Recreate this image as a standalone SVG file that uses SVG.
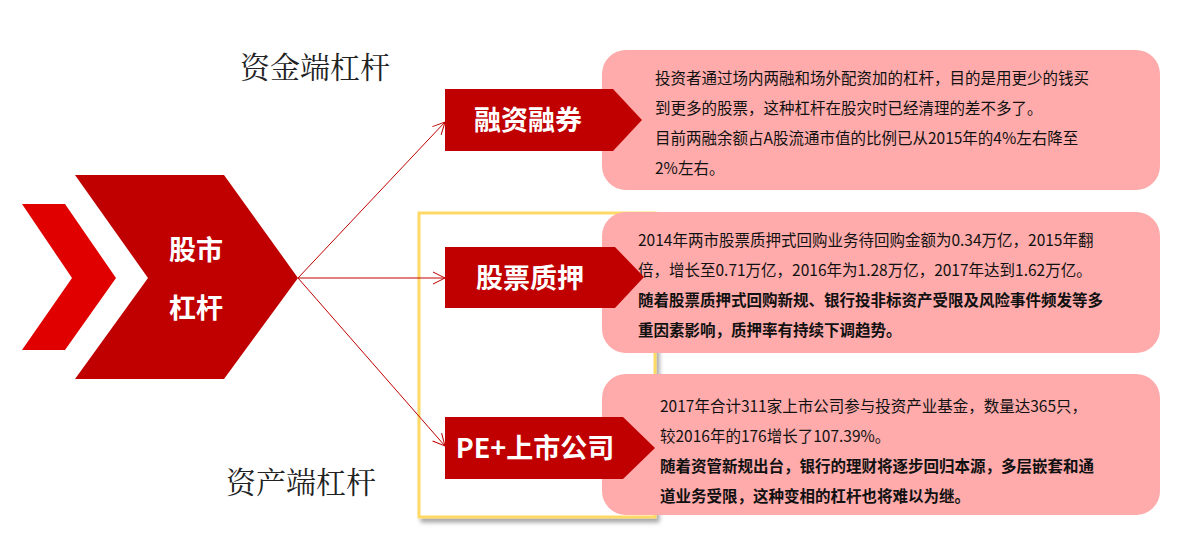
<svg xmlns="http://www.w3.org/2000/svg" width="1200" height="553" viewBox="0 0 1200 553">
<defs>
<style>
.box{fill:#ffabab}
.lab{fill:#c00000}
.lt{font-family:"Noto Sans CJK SC",sans-serif;font-weight:bold;fill:#fff;font-size:27px;text-anchor:middle}
.t{font-family:"Noto Sans CJK SC",sans-serif;font-size:15.5px;fill:#111}
.b{font-weight:bold}
.side{font-family:"Liberation Serif","Noto Serif CJK SC","Noto Sans CJK SC",serif;font-size:30px;fill:#222}
.ln{stroke:#c00000;stroke-width:1;fill:none}
</style>
<marker id="ah" markerWidth="14" markerHeight="14" refX="13" refY="7" orient="auto" markerUnits="userSpaceOnUse"><path d="M1,1 L13,7 L1,13" fill="none" stroke="#c00000" stroke-width="1"/></marker>
<filter id="sh"><feDropShadow dx="3" dy="4" stdDeviation="2" flood-color="#000" flood-opacity="0.35"/></filter>
</defs>
<rect width="1200" height="553" fill="#fff"/>
<text class="side" x="240" y="78">资金端杠杆</text>
<text class="side" x="226" y="493">资产端杠杆</text>
<rect x="419" y="213" width="236" height="304" fill="#fff" stroke="#ffd966" stroke-width="3" filter="url(#sh)"/>
<g id="center">
<polygon points="22,204 65,204 116,278 65,350 22,350 72,278" fill="#e00000"/>
<polygon points="75,175 224,175 298,278 224,379 75,379 148,278" fill="#c00000"/>
<text class="lt" x="196" y="260" font-size="32">股市</text>
<text class="lt" x="196" y="318" font-size="32">杠杆</text>
</g>
<g id="connectors">
<line class="ln" x1="298" y1="278" x2="445" y2="122" marker-end="url(#ah)"/>
<line class="ln" x1="298" y1="278" x2="445" y2="278" marker-end="url(#ah)"/>
<line class="ln" x1="298" y1="278" x2="445" y2="446" marker-end="url(#ah)"/>
</g>
<g id="box1">
<rect class="box" x="602" y="50" width="558" height="140" rx="24"/>
<text class="t" x="655" y="84">投资者通过场内两融和场外配资加的杠杆，目的是用更少的钱买</text>
<text class="t" x="655" y="114">到更多的股票，这种杠杆在股灾时已经清理的差不多了。</text>
<text class="t" x="655" y="144">目前两融余额占A股流通市值的比例已从2015年的4%左右降至</text>
<text class="t" x="655" y="174">2%左右。</text>
</g>
<g id="box2">
<rect class="box" x="602" y="212" width="558" height="141" rx="24"/>
<text class="t" x="638" y="246">2014年两市股票质押式回购业务待回购金额为0.34万亿，2015年翻</text>
<text class="t" x="638" y="276">倍，增长至0.71万亿，2016年为1.28万亿，2017年达到1.62万亿。</text>
<text class="t b" x="638" y="306">随着股票质押式回购新规、银行投非标资产受限及风险事件频发等多</text>
<text class="t b" x="638" y="336">重因素影响，质押率有持续下调趋势。</text>
</g>
<g id="box3">
<rect class="box" x="602" y="374" width="558" height="141" rx="24"/>
<text class="t" x="660" y="412">2017年合计311家上市公司参与投资产业基金，数量达365只，</text>
<text class="t" x="660" y="442">较2016年的176增长了107.39%。</text>
<text class="t b" x="660" y="472">随着资管新规出台，银行的理财将逐步回归本源，多层嵌套和通</text>
<text class="t b" x="660" y="502">道业务受限，这种变相的杠杆也将难以为继。</text>
</g>
<g id="lab1">
<polygon class="lab" points="445,89 613,89 642,120 613,151 445,151"/>
<text class="lt" x="528" y="130" font-size="25">融资融券</text>
</g>
<g id="lab2">
<polygon class="lab" points="445,247 615,247 644,277 615,308 445,308"/>
<text class="lt" x="530" y="288" font-size="29">股票质押</text>
</g>
<g id="lab3">
<polygon class="lab" points="445,417 623,417 655,448 623,479 445,479"/>
<text class="lt" x="535" y="458" font-size="26">PE+上市公司</text>
</g>
</svg>
